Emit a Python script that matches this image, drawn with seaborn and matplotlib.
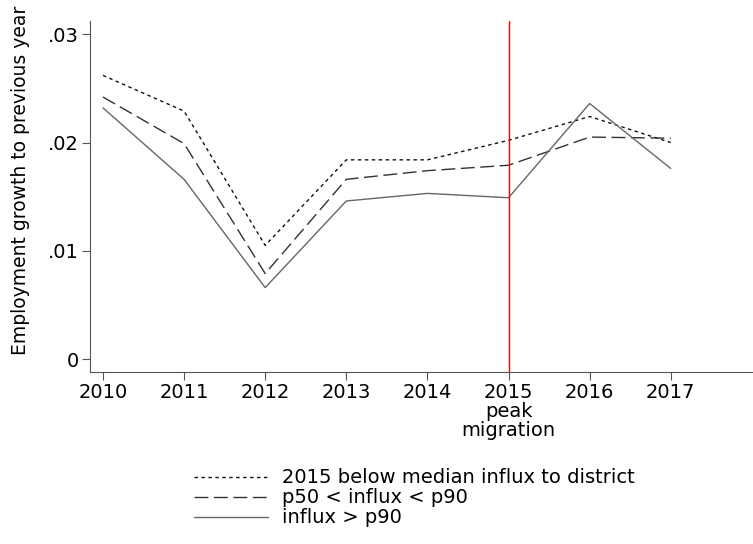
import pandas as pd
import matplotlib.pyplot as plt
import seaborn as sns

years = [2010, 2011, 2012, 2013, 2014, 2015, 2016, 2017]
below_median = [0.0262, 0.0229, 0.0105, 0.0184, 0.0184, 0.0202, 0.0224, 0.0200]
p50_p90 = [0.0242, 0.0199, 0.0079, 0.0166, 0.0174, 0.0179, 0.0205, 0.0204]
above_p90 = [0.0232, 0.0166, 0.0066, 0.0146, 0.0153, 0.0149, 0.0236, 0.0176]
names = ['2015 below median influx to district', 'p50 < influx < p90', 'influx > p90']
ytick_vals = [0, 0.01, 0.02, 0.03]
ytick_labels = ['0', '.01', '.02', '.03']
xtick_labels = ['2010', '2011', '2012', '2013', '2014', '2015\npeak\nmigration', '2016', '2017']

df = pd.concat([
    pd.DataFrame({'year': years, 'growth': below_median, 'group': names[0]}),
    pd.DataFrame({'year': years, 'growth': p50_p90, 'group': names[1]}),
    pd.DataFrame({'year': years, 'growth': above_p90, 'group': names[2]}),
], ignore_index=True)

sns.set_style('white')
plt.rcParams['font.family'] = ['DejaVu Sans']
plt.rcParams['text.color'] = 'black'
plt.rcParams['xtick.color'] = '#555555'
plt.rcParams['ytick.color'] = '#555555'
plt.rcParams['xtick.labelcolor'] = 'black'
plt.rcParams['ytick.labelcolor'] = 'black'
plt.rcParams['axes.labelcolor'] = 'black'

fig = plt.figure(figsize=(7.53, 5.44), dpi=100)
ax = fig.add_axes([0.1195, 0.316, 0.879, 0.645])

colors = {names[0]: '#111111', names[1]: '#333333', names[2]: '#666666'}
dash_map = {names[0]: (2.5, 2.5), names[1]: (10, 4), names[2]: ''}
sns.lineplot(data=df, x='year', y='growth', hue='group', style='group',
             palette=colors, dashes=dash_map, linewidth=1.0, ax=ax, legend=False)

ax.axvline(2015, color='#ff0000', linewidth=1.0)

ax.set_xlim(2009.84, 2018.0)
ax.set_ylim(-0.0012, 0.0312)
ax.set_xticks(years)
ax.set_xticklabels(xtick_labels, fontsize=14, linespacing=1.0)
ax.set_yticks(ytick_vals)
ax.set_yticklabels(ytick_labels, fontsize=14)
ax.set_xlabel('')
ax.set_ylabel('Employment growth to previous year', fontsize=13.5)
ax.yaxis.set_label_coords(-0.0906, 0.547)
ax.tick_params(axis='both', direction='out', length=6, width=0.8, bottom=True, left=True, pad=2)
sns.despine(ax=ax)
for s in ['left', 'bottom']:
    ax.spines[s].set_linewidth(0.8)
    ax.spines[s].set_color('#555555')

handles = [
    plt.Line2D([], [], color=colors[names[0]], lw=1.0, dashes=dash_map[names[0]]),
    plt.Line2D([], [], color=colors[names[1]], lw=1.0, dashes=dash_map[names[1]]),
    plt.Line2D([], [], color=colors[names[2]], lw=1.0),
]
fig.legend(handles, names, loc='upper left', bbox_to_anchor=(0.2576, 0.139),
           frameon=False, fontsize=14, handlelength=3.8, handletextpad=0.72,
           labelspacing=0.05, borderpad=0, borderaxespad=0)

plt.savefig('out.png', dpi=100)
